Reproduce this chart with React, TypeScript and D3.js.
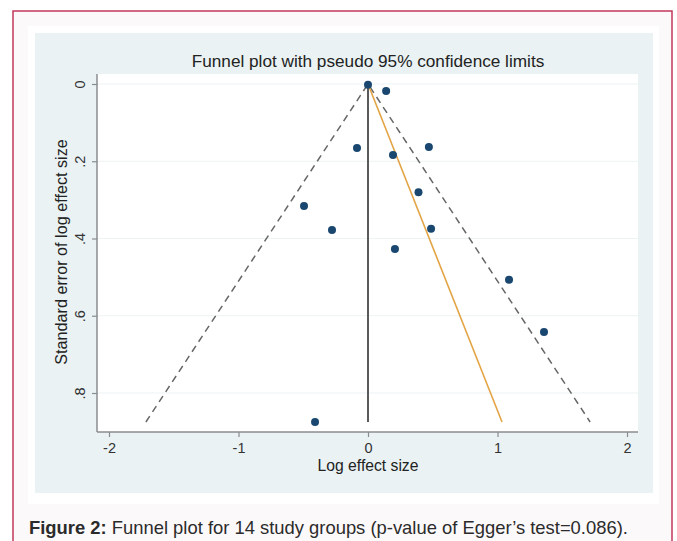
import React, { useEffect, useRef } from 'react';
import * as d3 from 'd3';

// study estimates
const effectSize = [0.0, 0.14, -0.085, 0.193, 0.47, 0.39, -0.494, 0.487, -0.278, 0.208, 1.089, 1.359, -0.409];
const stdError = [0.002, 0.018, 0.166, 0.184, 0.163, 0.28, 0.316, 0.375, 0.378, 0.427, 0.507, 0.642, 0.875];
// Egger regression line (two ends)
const eggerSE = [0, 0.875];
const eggerX = [0, 1.035];
const z95 = 1.96;
const xTicks = [-2, -1, 0, 1, 2];
const xTickLabels = ['-2', '-1', '0', '1', '2'];
const yTicks = [0, 0.2, 0.4, 0.6, 0.8];
const yTickLabels = ['0', '.2', '.4', '.6', '.8'];

const W = 677;
const H = 541;
const FONT = '"Liberation Sans", Arial, sans-serif';

export default function App() {
  const ref = useRef<SVGSVGElement>(null);

  useEffect(() => {
    const svg = d3.select(ref.current);
    svg.selectAll('*').remove();

    // page frame
    svg.append('rect').attr('x', 13).attr('y', 11).attr('width', 659).attr('height', 560)
      .attr('fill', '#fcf9fa').attr('stroke', '#c2375c').attr('stroke-width', 1.5);
    svg.append('rect').attr('x', 28).attr('y', 26).attr('width', 631).attr('height', 478).attr('fill', '#ffffff');
    // stata graph region
    svg.append('rect').attr('x', 35).attr('y', 33).attr('width', 618).attr('height', 460).attr('fill', '#eaf2f3');

    const plot = { left: 97, right: 638, top: 74, bottom: 432 };
    svg.append('rect').attr('x', plot.left).attr('y', plot.top)
      .attr('width', plot.right - plot.left).attr('height', plot.bottom - plot.top).attr('fill', '#ffffff');

    const x = d3.scaleLinear().domain([-2, 2]).range([109, 627]);
    const y = d3.scaleLinear().domain([0, 0.8]).range([84, 393]);

    // grid
    svg.append('g').selectAll('line').data(yTicks).join('line')
      .attr('x1', plot.left).attr('x2', plot.right)
      .attr('y1', (d) => y(d)).attr('y2', (d) => y(d))
      .attr('stroke', '#edf2f3').attr('stroke-width', 1);

    // axes
    const xAxis = d3.axisBottom(x).tickValues(xTicks).tickFormat((d, i) => xTickLabels[i]).tickSize(5).tickPadding(6);
    const gx = svg.append('g').attr('transform', `translate(0,${plot.bottom})`).call(xAxis);
    gx.select('.domain').attr('d', `M${plot.left},0H${plot.right}`);
    const yAxis = d3.axisLeft(y).tickValues(yTicks).tickFormat((d, i) => yTickLabels[i]).tickSize(5);
    const gy = svg.append('g').attr('transform', `translate(${plot.left},0)`).call(yAxis);
    gy.select('.domain').attr('d', `M0,${plot.top}V${plot.bottom}`);
    [gx, gy].forEach((g) => {
      g.select('.domain').attr('stroke', '#8a8d8f').attr('stroke-width', 1.5);
      g.selectAll('.tick line').attr('stroke', '#8a8d8f').attr('stroke-width', 1.2);
      g.selectAll('.tick text').attr('fill', '#333').attr('font-family', FONT).attr('font-size', 14.5);
    });
    gy.selectAll('.tick text')
      .attr('x', 0).attr('y', 0).attr('dy', '0')
      .attr('text-anchor', 'middle')
      .attr('transform', 'translate(-12,0) rotate(-90)');

    const lineGen = d3.line<[number, number]>().x((d) => x(d[0])).y((d) => y(d[1]));
    const seMax = d3.max(stdError) as number;

    // pseudo 95% limits
    svg.append('path').attr('d', lineGen([[-z95 * seMax, seMax], [0, 0], [z95 * seMax, seMax]]))
      .attr('fill', 'none').attr('stroke', '#666').attr('stroke-width', 1.5).attr('stroke-dasharray', '7,5');
    // pooled estimate
    svg.append('path').attr('d', lineGen([[0, 0], [0, seMax]]))
      .attr('stroke', '#5a5a5a').attr('stroke-width', 2);
    // Egger line
    svg.append('path').attr('d', lineGen(eggerSE.map((s, i) => [eggerX[i], s])))
      .attr('stroke', '#e3a445').attr('stroke-width', 1.6);

    svg.append('g').selectAll('circle').data(effectSize).join('circle')
      .attr('cx', (d) => x(d)).attr('cy', (d, i) => y(stdError[i]))
      .attr('r', 4).attr('fill', '#1a476f');

    // titles
    svg.append('text').attr('x', 368).attr('y', 67).attr('text-anchor', 'middle')
      .attr('font-family', FONT).attr('font-size', 17.2).attr('fill', '#222')
      .text('Funnel plot with pseudo 95% confidence limits');
    svg.append('text').attr('x', 368).attr('y', 471).attr('text-anchor', 'middle')
      .attr('font-family', FONT).attr('font-size', 15.7).attr('fill', '#222')
      .text('Log effect size');
    svg.append('text').attr('transform', 'translate(67,252) rotate(-90)').attr('text-anchor', 'middle')
      .attr('font-family', FONT).attr('font-size', 16.2).attr('fill', '#222')
      .text('Standard error of log effect size');

    const cap = svg.append('text').attr('x', 29).attr('y', 534)
      .attr('font-family', FONT).attr('font-size', 18.4).attr('fill', '#2b2b2b');
    cap.append('tspan').attr('font-weight', 'bold').text('Figure 2:');
    cap.append('tspan').text(' Funnel plot for 14 study groups (p-value of Egger\u2019s test=0.086).');
  }, []);

  return (
    <svg ref={ref} width={W} height={H} style={{ position: 'absolute', left: 0, top: 0, background: '#fff' }} />
  );
}
